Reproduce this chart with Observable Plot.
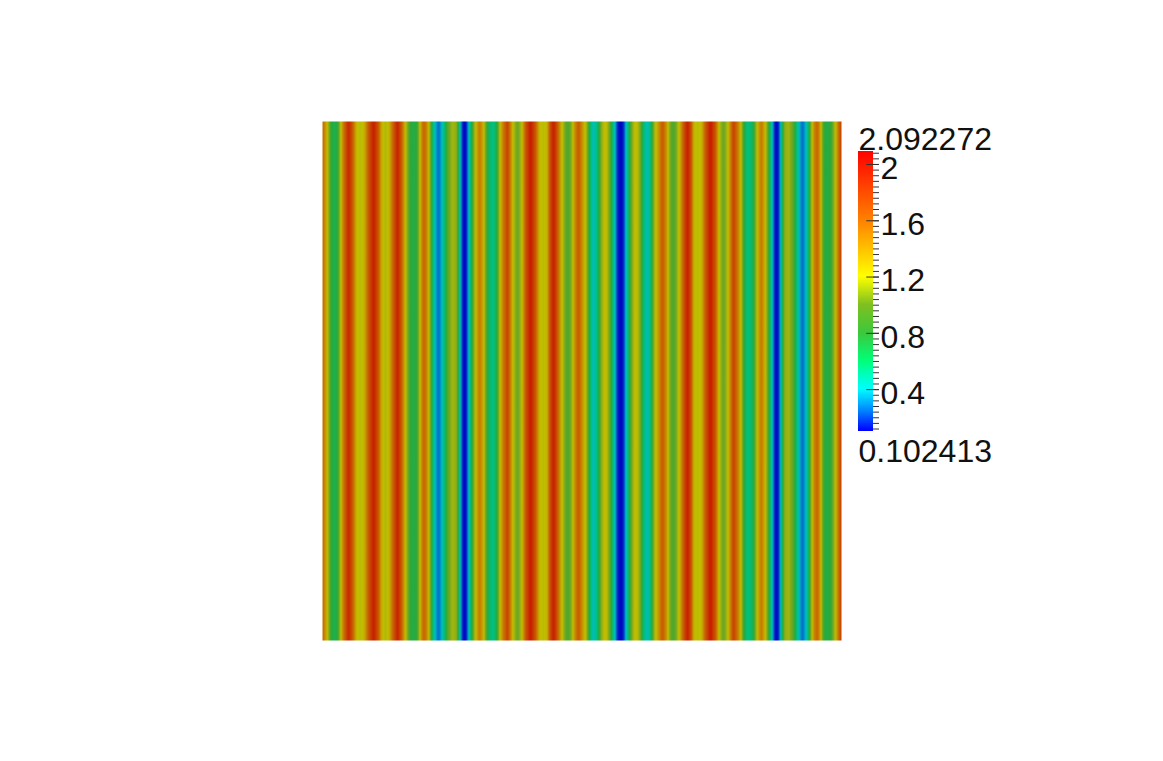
<!DOCTYPE html>
<html><head><meta charset="utf-8">
<script src="https://cdn.jsdelivr.net/npm/d3@7"></script>
<script src="https://cdn.jsdelivr.net/npm/@observablehq/plot@0.6"></script>
<style>
html,body{margin:0;padding:0;background:#fff;}
#stage{position:relative;width:1163px;height:761px;overflow:hidden;}
#stage>div{position:absolute;}
#stage svg{display:block;overflow:visible;background:transparent;}
</style></head><body><div id="stage"><div id="map" style="left:322px;top:121px;width:519px;height:519px"></div><div id="bar" style="left:850px;top:100px;width:150px;height:380px"></div></div>
<script>
// stripe positions across the square and the field value read at each
const stripeX = [0,4,8,12,15,18,21,26,30,34,38,42,46,51,56,59,63,67,71,75,79,83,87,91,95,98,101,104,107,111,114,116,118,121,125,130,134,136,138,140,142,144,146,149,153,157,160,163,166,171,175,178,181,185,188,191,195,199,203,208,213,217,221,225,227,231,235,239,243,246,249,252,256,260,264,268,271,275,279,283,286,289,292,295,298,
301,304,307,310,313,317,321,325,328,332,336,340,344,347,350,353,357,361,365,369,371,375,379,383,388,393,397,401,405,408,411,415,418,421,425,430,433,436,439,443,447,450,452,454,456,458,460,462,466,471,475,478,480,482,485,489,492,495,498,501,505,509,513,517,519];
const stripeV = [1.65,1.3,0.85,0.72,0.8,1.15,1.55,2.0,1.7,1.25,1.15,1.3,1.7,2.05,1.7,1.3,1.12,1.3,1.7,2.02,1.7,1.2,0.85,0.75,0.85,1.3,1.65,1.5,1.1,0.55,0.33,0.27,0.33,0.55,0.9,1.12,1.05,0.75,0.4,0.16,0.1,0.16,0.4,0.75,1.2,1.55,1.35,1.0,0.7,0.58,0.85,1.25,1.55,1.85,1.5,1.15,0.95,1.15,1.7,2.08,1.7,1.25,1.15,1.3,1.7,2.05,1.7,1.25,0.95,0.88,1.05,1.4,1.72,1.4,1.1,0.65,0.42,0.65,1.05,1.25,1.05,0.78,0.45,0.16,0.1,
0.16,0.45,0.78,1.05,1.25,1.05,0.65,0.42,0.65,1.1,1.4,1.72,1.4,1.05,0.88,0.95,1.25,1.7,2.05,1.7,1.3,1.15,1.25,1.7,2.08,1.7,1.15,0.95,1.15,1.5,1.85,1.55,1.25,0.85,0.58,0.7,1.0,1.35,1.55,1.2,0.75,0.4,0.16,0.1,0.16,0.4,0.75,1.05,1.12,0.9,0.55,0.33,0.27,0.33,0.55,1.1,1.5,1.65,1.3,0.85,0.75,0.85,1.2,1.7,1.85];
const rowEnds = [0,1];
const scaleStops = [0.102413,0.25,0.4,0.6,0.8,1.0,1.2,1.6,2.092272];
const mapColors = ["#0000c0","#0060c8","#00bcc8","#00c080","#2aa838","#78a820","#c4c000","#c86c00","#c81400"];
const barColors = ["#0000ff","#0088ff","#00ffff","#00ff78","#3cc83c","#80c020","#ffff00","#ff8000","#ff0000"];
const majorTicks = [0.4,0.8,1.2,1.6,2];
const majorLabels = ["0.4","0.8","1.2","1.6","2"];
const minorStep = 0.04;
const rangeMin = 0.102413, rangeMax = 2.092272;
const rangeLabels = ["0.102413","2.092272"];

const field = rowEnds.flatMap(r => stripeX.map((x,i)=>({x,y:r,v:stripeV[i]})));
document.getElementById("map").append(Plot.plot({
  width:519,height:519,margin:0,
  x:{domain:[0,519],axis:null},y:{domain:[0,1],axis:null},
  color:{type:"linear",domain:scaleStops,range:mapColors,interpolate:"rgb"},
  marks:[Plot.raster(field,{x:"x",y:"y",fill:"v",interpolate:"barycentric",pixelSize:1})]
}));

const levels = d3.range(rangeMin,rangeMax,0.005);
const minor = d3.range(Math.ceil(rangeMin/minorStep),Math.floor(rangeMax/minorStep)+1).map(k=>k*minorStep);
const labelFont = {fontFamily:"Liberation Sans",fontSize:32,fontWeight:300,fill:"#111"};
document.getElementById("bar").append(Plot.plot({
  width:150,height:380,marginLeft:8,marginRight:127,marginTop:51,marginBottom:49,
  x:{domain:[0,1],axis:null},
  y:{domain:[rangeMin,rangeMax],axis:null},
  color:{type:"linear",domain:scaleStops,range:barColors,interpolate:"rgb"},
  marks:[
    Plot.rect(levels,{x1:()=>0,x2:()=>1,y1:d=>d,y2:d=>Math.min(d+0.02,rangeMax),fill:d=>d,shapeRendering:"crispEdges"}),
    Plot.ruleY(minor,{x1:()=>1,x2:()=>1.4,stroke:"#333",strokeWidth:1}),
    Plot.ruleY(majorTicks,{x1:()=>0.55,x2:()=>1.4,stroke:"#333",strokeWidth:1}),
    Plot.text(majorTicks,{x:()=>1.47,y:d=>d,text:(d,i)=>majorLabels[i],textAnchor:"start",dy:4,...labelFont}),
    Plot.text([rangeMax],{x:()=>0,y:d=>d,text:()=>rangeLabels[1],textAnchor:"start",lineAnchor:"bottom",dy:-2,...labelFont}),
    Plot.text([rangeMin],{x:()=>0,y:d=>d,text:()=>rangeLabels[0],textAnchor:"start",lineAnchor:"top",dy:8,...labelFont})
  ]
}));
</script></body></html>
